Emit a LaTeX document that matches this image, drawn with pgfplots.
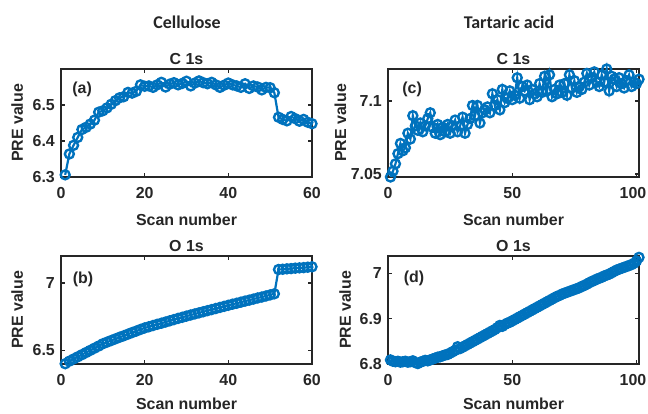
\documentclass[border=0pt]{standalone}
\usepackage{fontspec}
\setmainfont{Liberation Sans}
\newfontfamily\carlito{Carlito}
\usepackage{pgfplots}
\pgfplotsset{compat=1.18}
\definecolor{mblue}{RGB}{0,114,189}
\definecolor{axc}{RGB}{38,38,38}
\pgfplotstableread{
x y
1 6.306
2 6.364
3 6.388
4 6.410
5 6.432
6 6.438
7 6.447
8 6.458
9 6.480
10 6.484
11 6.492
12 6.502
13 6.512
14 6.520
15 6.523
16 6.535
17 6.533
18 6.538
19 6.556
20 6.552
21 6.553
22 6.549
23 6.556
24 6.563
25 6.550
26 6.558
27 6.562
28 6.556
29 6.560
30 6.566
31 6.553
32 6.561
33 6.567
34 6.562
35 6.559
36 6.563
37 6.556
38 6.549
39 6.555
40 6.561
41 6.556
42 6.553
43 6.549
44 6.559
45 6.546
46 6.553
47 6.550
48 6.542
49 6.549
50 6.548
51 6.534
52 6.466
53 6.460
54 6.456
55 6.468
56 6.462
57 6.455
58 6.460
59 6.452
60 6.448
}\tabA
\pgfplotstableread{
x y
1 6.402
2 6.421
3 6.437
4 6.453
5 6.469
6 6.485
7 6.501
8 6.517
9 6.533
10 6.550
11 6.562
12 6.574
13 6.586
14 6.598
15 6.609
16 6.621
17 6.633
18 6.644
19 6.656
20 6.667
21 6.676
22 6.685
23 6.694
24 6.702
25 6.711
26 6.720
27 6.729
28 6.738
29 6.746
30 6.755
31 6.763
32 6.771
33 6.779
34 6.787
35 6.795
36 6.803
37 6.811
38 6.819
39 6.827
40 6.835
41 6.843
42 6.850
43 6.858
44 6.866
45 6.873
46 6.881
47 6.889
48 6.896
49 6.904
50 6.912
51 6.920
52 7.100
53 7.102
54 7.105
55 7.107
56 7.110
57 7.112
58 7.114
59 7.117
60 7.120
}\tabB
\pgfplotstableread{
x y
1 7.048
2 7.052
3 7.057
4 7.064
5 7.071
6 7.066
7 7.068
8 7.078
9 7.074
10 7.090
11 7.083
12 7.080
13 7.085
14 7.079
15 7.083
16 7.088
17 7.092
18 7.082
19 7.078
20 7.084
21 7.077
22 7.082
23 7.079
24 7.084
25 7.078
26 7.083
27 7.087
28 7.079
29 7.083
30 7.089
31 7.078
32 7.084
33 7.088
34 7.097
35 7.090
36 7.097
37 7.085
38 7.092
39 7.094
40 7.096
41 7.092
42 7.105
43 7.097
44 7.101
45 7.094
46 7.108
47 7.099
48 7.102
49 7.107
50 7.101
51 7.104
52 7.116
53 7.102
54 7.110
55 7.107
56 7.111
57 7.101
58 7.108
59 7.105
60 7.103
61 7.112
62 7.106
63 7.117
64 7.107
65 7.118
66 7.103
67 7.108
68 7.105
69 7.111
70 7.106
71 7.112
72 7.104
73 7.118
74 7.109
75 7.114
76 7.106
77 7.110
78 7.108
79 7.113
80 7.119
81 7.111
82 7.116
83 7.120
84 7.113
85 7.110
86 7.118
87 7.113
88 7.122
89 7.107
90 7.117
91 7.115
92 7.110
93 7.116
94 7.112
95 7.109
96 7.114
97 7.118
98 7.110
99 7.113
100 7.112
101 7.115
}\tabC
\pgfplotstableread{
x y
1 6.809
2 6.806
3 6.805
4 6.806
5 6.804
6 6.805
7 6.806
8 6.804
9 6.805
10 6.807
11 6.803
12 6.801
13 6.804
14 6.806
15 6.808
16 6.807
17 6.809
18 6.811
19 6.813
20 6.815
21 6.816
22 6.818
23 6.820
24 6.821
25 6.824
26 6.827
27 6.830
28 6.838
29 6.834
30 6.837
31 6.840
32 6.843
33 6.846
34 6.849
35 6.852
36 6.855
37 6.858
38 6.861
39 6.864
40 6.867
41 6.870
42 6.873
43 6.876
44 6.880
45 6.885
46 6.883
47 6.887
48 6.890
49 6.892
50 6.895
51 6.898
52 6.901
53 6.904
54 6.907
55 6.910
56 6.913
57 6.916
58 6.919
59 6.922
60 6.925
61 6.928
62 6.931
63 6.934
64 6.937
65 6.940
66 6.943
67 6.946
68 6.949
69 6.951
70 6.954
71 6.956
72 6.958
73 6.960
74 6.962
75 6.964
76 6.966
77 6.968
78 6.971
79 6.973
80 6.976
81 6.979
82 6.982
83 6.984
84 6.987
85 6.989
86 6.991
87 6.994
88 6.996
89 6.998
90 7.001
91 7.004
92 7.007
93 7.009
94 7.011
95 7.013
96 7.015
97 7.017
98 7.019
99 7.022
100 7.027
101 7.035
}\tabD
\pgfplotsset{
  myax/.style={
    scale only axis, width=251bp, height=108bp,
    axis line style={line width=1.8bp, axc},
    every tick/.style={line width=1.3bp, axc},
    major tick length=4bp,
    tick align=inside,
    tick label style={font=\fontsize{16}{16}\selectfont\bfseries, text=axc},
    xticklabel style={anchor=north, inner sep=0pt, yshift=-10bp},
    yticklabel style={anchor=east, inner sep=0pt, xshift=-6bp},
    label style={font=\fontsize{16}{16}\selectfont\bfseries, text=axc},
    title style={font=\fontsize{16}{16}\selectfont\bfseries, text=axc, at={(axis description cs:0.5,1)}, anchor=base, yshift=-1bp},
    xlabel={Scan number}, ylabel={PRE value},
    clip=false,
    xmin=0,
  },
  myplot/.style={color=mblue, line width=2.2bp, mark=o, mark size=4.5bp, mark options={line width=2.4bp}},
}
\tikzset{plab/.style={font=\fontsize{16}{16}\selectfont\bfseries, text=axc, anchor=center}}
\begin{document}
\begin{tikzpicture}
\useasboundingbox (0,0) rectangle (648bp,414bp);
\node[font=\carlito\fontsize{18}{18}\selectfont\bfseries, text=axc] at (187bp,392bp) {Cellulose};
\node[font=\carlito\fontsize{18}{18}\selectfont\bfseries, text=axc] at (509bp,392bp) {Tartaric acid};
% (a)
\begin{axis}[myax, at={(61bp,237bp)}, anchor=south west,
  title={C 1s}, xmax=60, ymin=6.3, ymax=6.6,
  xtick={0,20,40,60}, xticklabels={0,20,40,60},
  ytick={6.3,6.4,6.5}, yticklabels={6.3,6.4,6.5},
  xlabel style={at={(axis description cs:0.5,0)}, anchor=center, yshift=-43bp},
  ylabel style={at={(axis description cs:-0.175,0.5)}, anchor=center}]
\addplot[myplot] table[x=x,y=y] {\tabA};
\node[plab] at (rel axis cs:0.084,0.815) {(a)};
\end{axis}
% (c)
\begin{axis}[myax, at={(388bp,237bp)}, anchor=south west,
  title={C 1s}, xmax=101, ymin=7.048, ymax=7.122,
  xtick={0,50,100}, xticklabels={0,50,100\hspace*{7bp}},
  ytick={7.05,7.1}, yticklabels={7.05,7.1},
  xlabel style={at={(axis description cs:0.5,0)}, anchor=center, yshift=-43bp},
  ylabel style={at={(axis description cs:-0.19,0.5)}, anchor=center}]
\addplot[myplot] table[x=x,y=y] {\tabC};
\node[plab] at (rel axis cs:0.096,0.815) {(c)};
\end{axis}
% (b)
\begin{axis}[myax, at={(61bp,50bp)}, anchor=south west,
  title={O 1s}, xmax=60, ymin=6.4, ymax=7.2,
  xtick={0,20,40,60}, xticklabels={0,20,40,60},
  ytick={6.5,7}, yticklabels={6.5,7},
  xlabel style={at={(axis description cs:0.5,0)}, anchor=center, yshift=-40bp},
  ylabel style={at={(axis description cs:-0.175,0.5)}, anchor=center}]
\addplot[myplot] table[x=x,y=y] {\tabB};
\node[plab] at (rel axis cs:0.088,0.78) {(b)};
\end{axis}
% (d)
\begin{axis}[myax, at={(388bp,50bp)}, anchor=south west,
  title={O 1s}, xmax=101, ymin=6.8, ymax=7.038,
  xtick={0,50,100}, xticklabels={0,50,100\hspace*{7bp}},
  ytick={6.8,6.9,7}, yticklabels={6.8,6.9,7},
  xlabel style={at={(axis description cs:0.5,0)}, anchor=center, yshift=-40bp},
  ylabel style={at={(axis description cs:-0.171,0.5)}, anchor=center}]
\addplot[myplot] table[x=x,y=y] {\tabD};
\node[plab] at (rel axis cs:0.104,0.79) {(d)};
\end{axis}
\end{tikzpicture}
\end{document}
